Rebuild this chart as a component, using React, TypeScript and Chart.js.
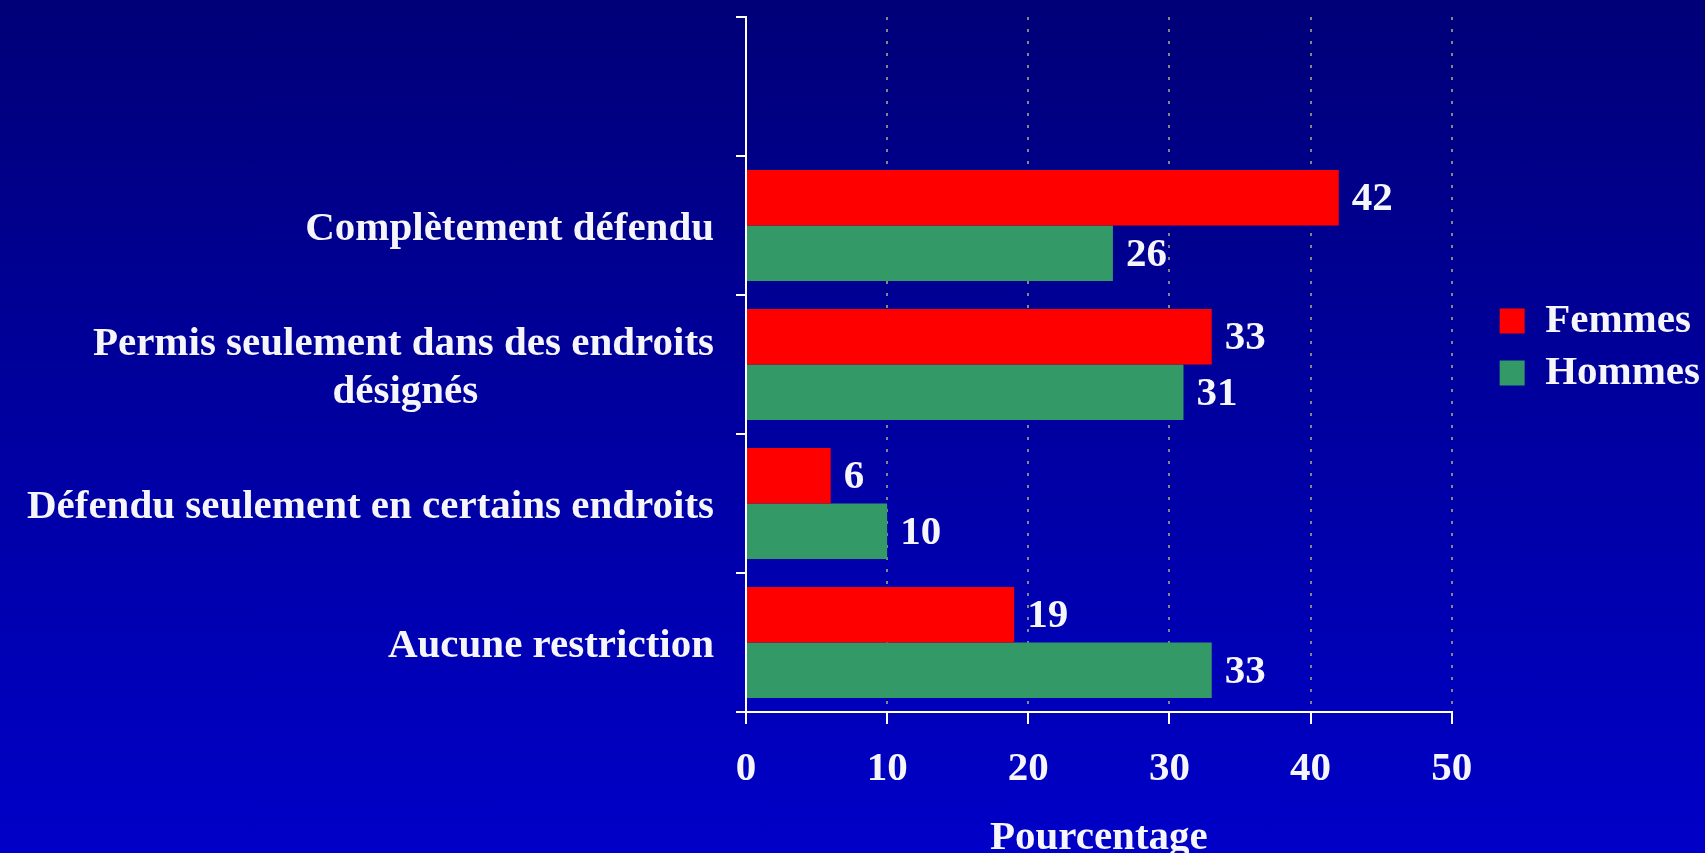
import React, { useEffect, useRef } from 'react';
import { Chart, registerables } from 'chart.js';

Chart.register(...registerables);

// ---- Data ----
const categories: string[][] = [
  [''],
  ['Complètement défendu'],
  ['Permis seulement dans des endroits', 'désignés'],
  ['Défendu seulement en certains endroits'],
  ['Aucune restriction'],
];
const seriesNames = ['Femmes', 'Hommes'];
const femmes: (number | null)[] = [null, 42, 33, 6, 19];
const hommes: (number | null)[] = [null, 26, 31, 10, 33];
const xMin = 0;
const xMax = 50;
const xStep = 10;
const axisTitle = 'Pourcentage';

// ---- Style ----
const FONT = '"Liberation Serif", "Times New Roman", serif';
const TEXT = '#f5f5fa';
const FS = 41;
const RED = '#ff0000';
const GREEN = '#339966';

function centerLines(lines: string[]): string | string[] {
  if (!lines || lines.length < 2) return lines ? lines[0] : '';
  const c = document.createElement('canvas').getContext('2d')!;
  c.font = `bold ${FS}px ${FONT}`;
  const widths = lines.map((l) => c.measureText(l).width);
  const max = Math.max(...widths);
  const sp = c.measureText(' ').width;
  return lines.map((l, i) => l + ' '.repeat(Math.round((max - widths[i]) / 2 / sp)));
}

const valueLabels = {
  id: 'valueLabels',
  afterDatasetsDraw(chart: any) {
    const ctx = chart.ctx;
    ctx.save();
    ctx.font = `bold ${FS}px ${FONT}`;
    ctx.fillStyle = TEXT;
    ctx.textAlign = 'left';
    ctx.textBaseline = 'middle';
    chart.data.datasets.forEach((ds: any, di: number) => {
      const meta = chart.getDatasetMeta(di);
      meta.data.forEach((bar: any, i: number) => {
        const v = ds.data[i];
        if (v == null) return;
        ctx.fillText(String(v), bar.x + 13, bar.y + 2);
      });
    });
    ctx.restore();
  },
};

const legendPlace = {
  id: 'legendPlace',
  afterLayout(chart: any) {
    const lg = chart.legend;
    const ca = chart.chartArea;
    if (!lg || !ca) return;
    const w = lg.width;
    lg.left = ca.right + 37;
    lg.right = lg.left + w;
    lg.top = ca.top - 35;
    lg.bottom = ca.bottom;
    lg.height = lg.bottom - lg.top;
  },
};

export default function App() {
  const ref = useRef<HTMLCanvasElement | null>(null);

  useEffect(() => {
    if (!ref.current) return;
    const font = { family: FONT, size: FS, weight: 'bold' as const };
    const chart = new Chart(ref.current, {
      type: 'bar',
      data: {
        labels: categories.map((l) => l.join(' ')),
        datasets: [
          {
            label: seriesNames[0],
            data: femmes,
            backgroundColor: RED,
            categoryPercentage: 0.8,
            barPercentage: 1,
          },
          {
            label: seriesNames[1],
            data: hommes,
            backgroundColor: GREEN,
            categoryPercentage: 0.8,
            barPercentage: 1,
          },
        ],
      },
      options: {
        responsive: false,
        animation: false,
        indexAxis: 'y',
        layout: { padding: { top: 17, right: 32, bottom: 0, left: 0 } },
        plugins: {
          legend: {
            position: 'right',
            labels: {
              boxWidth: 25,
              boxHeight: 25,
              padding: 11,
              color: TEXT,
              font,
            },
          },
          tooltip: { enabled: false },
        },
        scales: {
          x: {
            min: xMin,
            max: xMax,
            ticks: { stepSize: xStep, padding: 21, color: TEXT, font },
            grid: {
              color: (c: any) => (c.tick && c.tick.value === 0 ? 'rgba(0,0,0,0)' : '#858585'),
              lineWidth: 2,
              tickLength: 12,
              tickColor: '#ffffff',
              tickWidth: 2,
            },
            border: { color: '#ffffff', width: 2, dash: [3, 9] },
            title: {
              display: true,
              text: axisTitle,
              color: TEXT,
              font: { ...font, lineHeight: 0.7 },
              padding: 0,
            },
            afterFit: (s: any) => {
              s.height = 141;
              s.paddingRight = 0;
              s.paddingLeft = 0;
            },
          },
          y: {
            ticks: {
              padding: 22,
              labelOffset: 4,
              color: TEXT,
              font: { ...font, lineHeight: 1.17 },
              callback: (_v: any, i: number) => centerLines(categories[i]),
            },
            grid: {
              offset: true,
              drawOnChartArea: false,
              tickLength: 10,
              color: '#ffffff',
              lineWidth: 2,
            },
            border: { color: '#ffffff', width: 2 },
            afterFit: (s: any) => {
              s.width = 746;
              s.paddingTop = 0;
              s.paddingBottom = 0;
            },
          },
        },
      } as any,
      plugins: [valueLabels, legendPlace],
    });
    return () => chart.destroy();
  }, []);

  return (
    <div
      style={{
        position: 'fixed',
        left: 0,
        top: 0,
        width: 1705,
        height: 853,
        background: 'linear-gradient(to bottom, #000078, #0000c8)',
      }}
    >
      <canvas ref={ref} width={1705} height={853} style={{ display: 'block' }} />
    </div>
  );
}
